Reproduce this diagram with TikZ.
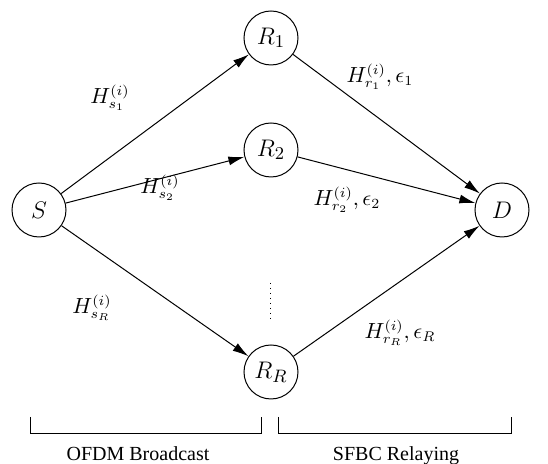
\documentclass[tikz,border=0pt]{standalone}
\usepackage{fontspec}
\setmainfont{Liberation Serif}
\usetikzlibrary{arrows.meta}
\begin{document}
\begin{tikzpicture}[x=0.5pt,y=-0.5pt,line width=0.5pt,
  station/.style={circle,draw,minimum size=27pt,inner sep=0pt,font=\fontsize{13}{15}\selectfont},
  link/.style={-{Latex[length=8pt,width=4.5pt]}},
  lbl/.style={inner sep=0pt,font=\fontsize{10.5}{12}\selectfont},
  phase/.style={inner sep=0pt,anchor=base}]
\useasboundingbox (0,0) rectangle (548,464);
\node[station] (S) at (39,210) {$S$};
\node[station] (R1) at (271,38) {$R_1$};
\node[station] (R2) at (271,150) {$R_2$};
\node[station] (RR) at (271,372) {$R_R$};
\node[station] (D) at (502,210) {$D$};
\draw[link] (S) -- (R1);
\draw[link] (S) -- (R2);
\draw[link] (S) -- (RR);
\draw[link] (R1) -- (D);
\draw[link] (R2) -- (D);
\draw[link] (RR) -- (D);
\coordinate (dtop) at (271,283);
\coordinate (dbot) at (271,321);
\draw[dotted] (dtop) -- (dbot);
\node[lbl] (ls1) at (110,98) {$H^{(i)}_{s_1}$};
\node[lbl] (ls2) at (160,188) {$H^{(i)}_{s_2}$};
\node[lbl] (lsR) at (92,308) {$H^{(i)}_{s_R}$};
\node[lbl] (lr1) at (380,77) {$H^{(i)}_{r_1},\epsilon_1$};
\node[lbl] (lr2) at (347,200) {$H^{(i)}_{r_2},\epsilon_2$};
\node[lbl] (lrR) at (400,333) {$H^{(i)}_{r_R},\epsilon_R$};
\coordinate (b1a) at (31,417);
\coordinate (b1b) at (31,434);
\coordinate (b1c) at (262,434);
\coordinate (b1d) at (262,417);
\draw (b1a) -- (b1b) -- (b1c) -- (b1d);
\coordinate (b2a) at (279,417);
\coordinate (b2b) at (279,434);
\coordinate (b2c) at (512,434);
\coordinate (b2d) at (512,417);
\draw (b2a) -- (b2b) -- (b2c) -- (b2d);
\node[phase] (ofdm) at (138,461) {OFDM Broadcast};
\node[phase] (sfbc) at (396,461) {SFBC Relaying};
\end{tikzpicture}
\end{document}
